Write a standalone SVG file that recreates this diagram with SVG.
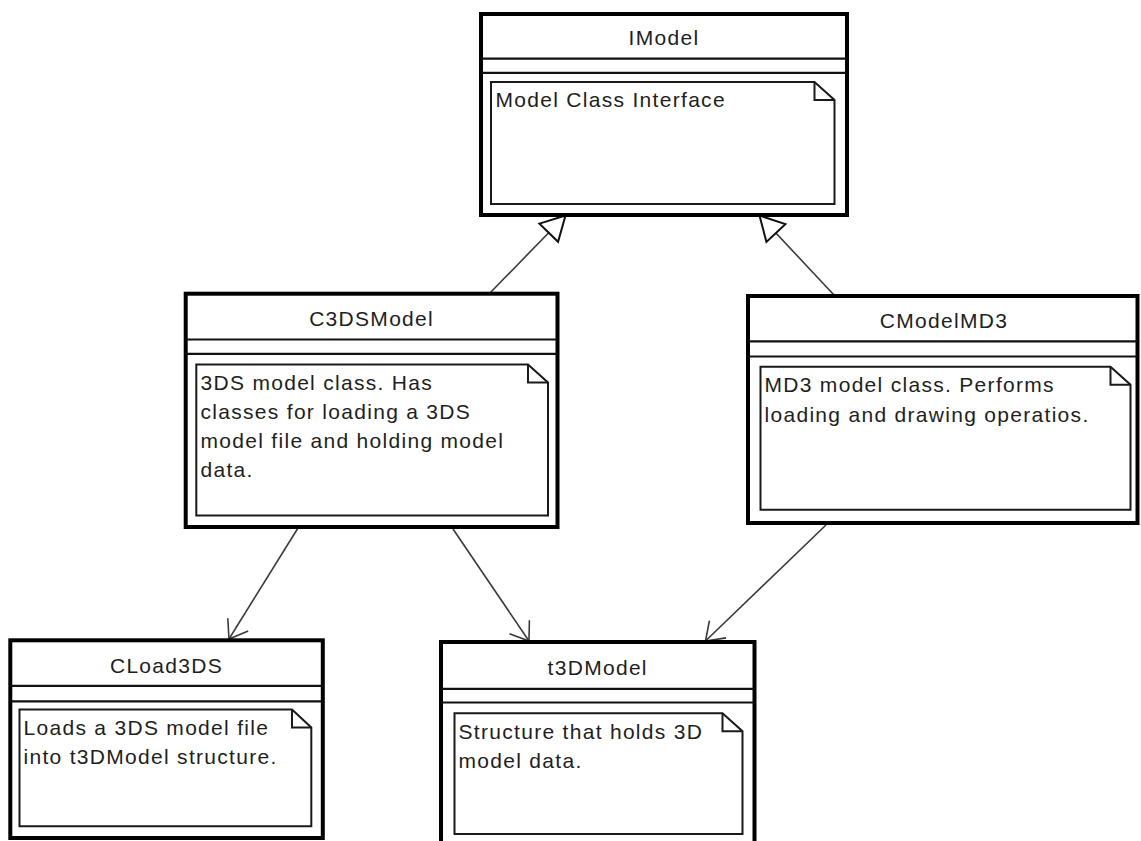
<svg xmlns="http://www.w3.org/2000/svg" width="1141" height="841" viewBox="0 0 1141 841">
  <style>
    .frame { fill: #ffffff; stroke: #000000; stroke-width: 4; }
    .sep { stroke: #111111; stroke-width: 2.2; fill: none; }
    .note { fill: #ffffff; stroke: #1a1a1a; stroke-width: 2; stroke-linejoin: miter; }
    .fold { fill: none; stroke: #1a1a1a; stroke-width: 2; }
    .title { font-family: "Liberation Sans", Arial, sans-serif; font-size: 21px; letter-spacing: 1.3px; fill: #1e1e1e; text-anchor: middle; }
    .body { font-family: "Liberation Sans", Arial, sans-serif; font-size: 21px; letter-spacing: 1.3px; fill: #1e1e1e; }
    .link { stroke: #3a3a3a; stroke-width: 1.6; fill: none; }
  </style>
  <defs>
    <!-- hollow triangle for generalization -->
    <marker id="inherit" markerUnits="userSpaceOnUse" markerWidth="30" markerHeight="30" refX="24" refY="13" orient="auto" overflow="visible">
      <path d="M 0 0 L 24 13 L 0 26 Z" fill="#ffffff" stroke="#111111" stroke-width="2" stroke-linejoin="miter"/>
    </marker>
    <!-- open arrowhead for association -->
    <marker id="open" markerUnits="userSpaceOnUse" markerWidth="30" markerHeight="30" refX="17" refY="12" orient="auto" overflow="visible">
      <path d="M 0 0 L 17 12 L 0 24" fill="none" stroke="#3a3a3a" stroke-width="1.6"/>
    </marker>
  </defs>

  <rect x="0" y="0" width="1141" height="841" fill="#ffffff"/>

  <g id="connectors">
    <line class="link" x1="490" y1="293" x2="565.5" y2="215.5" marker-end="url(#inherit)"/>
    <line class="link" x1="834" y1="295" x2="759.5" y2="215.5" marker-end="url(#inherit)"/>
    <line class="link" x1="298" y1="528" x2="229" y2="639" marker-end="url(#open)"/>
    <line class="link" x1="453" y1="529" x2="529" y2="641" marker-end="url(#open)"/>
    <line class="link" x1="826" y1="525" x2="705.5" y2="641" marker-end="url(#open)"/>
  </g>

  <g id="IModel">
    <rect class="frame" x="481" y="14" width="366" height="201"/>
    <line class="sep" x1="481" y1="58.7" x2="847" y2="58.7"/>
    <line class="sep" x1="481" y1="72.8" x2="847" y2="72.8"/>
    <path class="note" d="M 491 82 H 814.5 L 834.5 100 V 204 H 491 Z"/>
    <path class="fold" d="M 814.5 82 V 100 H 834.5"/>
    <text class="title" x="664" y="45">IModel</text>
    <text class="body" x="495.5" y="107">Model Class Interface</text>
  </g>

  <g id="C3DSModel">
    <rect class="frame" x="185.7" y="293.7" width="371.8" height="233.3"/>
    <line class="sep" x1="185.7" y1="339.5" x2="557.5" y2="339.5"/>
    <line class="sep" x1="185.7" y1="353.8" x2="557.5" y2="353.8"/>
    <path class="note" d="M 196.3 364.5 H 528 L 548 382.5 V 515.5 H 196.3 Z"/>
    <path class="fold" d="M 528 364.5 V 382.5 H 548"/>
    <text class="title" x="371.6" y="325.5">C3DSModel</text>
    <text class="body" x="200.5" y="390">3DS model class. Has</text>
    <text class="body" x="200.5" y="419">classes for loading a 3DS</text>
    <text class="body" x="200.5" y="448">model file and holding model</text>
    <text class="body" x="200.5" y="477">data.</text>
  </g>

  <g id="CModelMD3">
    <rect class="frame" x="748" y="296" width="389.5" height="227"/>
    <line class="sep" x1="748" y1="341.3" x2="1137.5" y2="341.3"/>
    <line class="sep" x1="748" y1="356.5" x2="1137.5" y2="356.5"/>
    <path class="note" d="M 760.5 366.8 H 1110.5 L 1130.5 384.8 V 509.8 H 760.5 Z"/>
    <path class="fold" d="M 1110.5 366.8 V 384.8 H 1130.5"/>
    <text class="title" x="944" y="328.3">CModelMD3</text>
    <text class="body" x="764.5" y="391.7">MD3 model class. Performs</text>
    <text class="body" x="764.5" y="421.7">loading and drawing operatios.</text>
  </g>

  <g id="CLoad3DS">
    <rect class="frame" x="10.3" y="640.3" width="312.5" height="197.7"/>
    <line class="sep" x1="10.3" y1="685.8" x2="322.8" y2="685.8"/>
    <line class="sep" x1="10.3" y1="701.3" x2="322.8" y2="701.3"/>
    <path class="note" d="M 19.5 709.5 H 292 L 311.3 727.5 V 826.3 H 19.5 Z"/>
    <path class="fold" d="M 292 709.5 V 727.5 H 311.3"/>
    <text class="title" x="166.5" y="673">CLoad3DS</text>
    <text class="body" x="23.5" y="735">Loads a 3DS model file</text>
    <text class="body" x="23.5" y="764">into t3DModel structure.</text>
  </g>

  <g id="t3DModel">
    <rect class="frame" x="441" y="642" width="313.5" height="203"/>
    <line class="sep" x1="441" y1="688.8" x2="754.5" y2="688.8"/>
    <line class="sep" x1="441" y1="702.5" x2="754.5" y2="702.5"/>
    <path class="note" d="M 454.5 713.3 H 722.5 L 742.5 731.3 V 834 H 454.5 Z"/>
    <path class="fold" d="M 722.5 713.3 V 731.3 H 742.5"/>
    <text class="title" x="597.7" y="675">t3DModel</text>
    <text class="body" x="458.5" y="739">Structure that holds 3D</text>
    <text class="body" x="458.5" y="768">model data.</text>
  </g>
</svg>
